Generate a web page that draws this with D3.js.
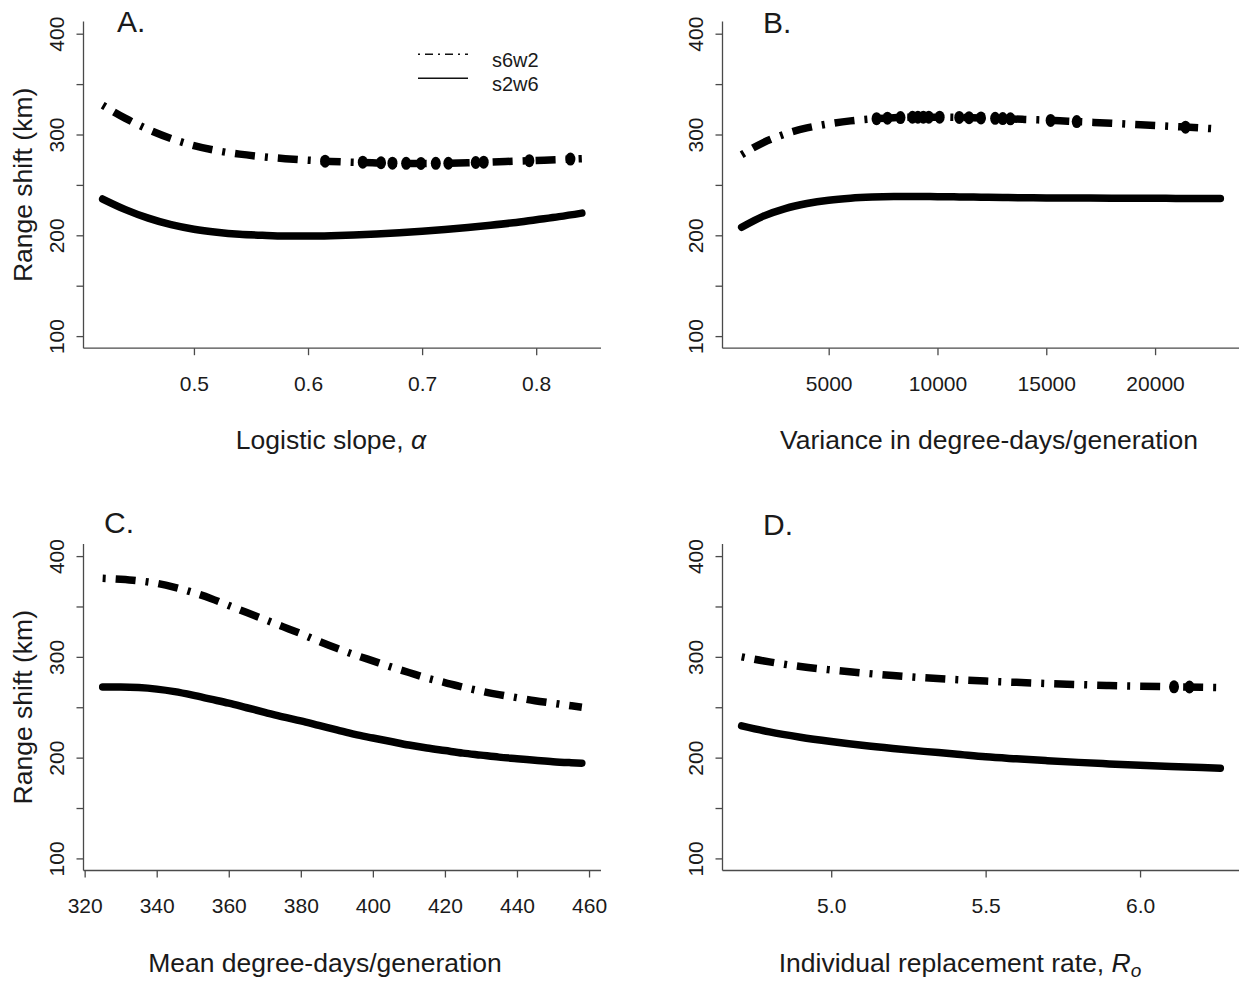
<!DOCTYPE html>
<html>
<head>
<meta charset="utf-8">
<title>Range shift</title>
<style>
body {
  margin: 0;
  background: #fff;
}
svg {
  display: block;
  font-family: "Liberation Sans", Arial, sans-serif;
}
</style>
</head>
<body>
<svg id="chart"></svg>
<script src="https://cdnjs.cloudflare.com/ajax/libs/d3/7.8.5/d3.min.js"></script>
<script>
// values
var seriesNames = ['s6w2', 's2w6'];

// A. logistic slope
var slopeX = [0.42, 0.44, 0.46, 0.48, 0.50, 0.52, 0.54, 0.56, 0.58, 0.60, 0.62,
              0.64, 0.66, 0.68, 0.70, 0.72, 0.74, 0.76, 0.78, 0.80, 0.82, 0.84];
var slopeS6w2 = [329, 316, 305, 296, 289, 284, 280.5, 278, 276, 274.5, 273.3,
                 272.4, 271.8, 271.4, 271.3, 271.5, 272, 272.7, 273.5, 274.3, 275.1, 276];
var slopeS2w6 = [236, 225.5, 217, 210.5, 206, 203, 201, 200, 199.3, 199.2, 199.5,
                 200.2, 201.2, 202.5, 204, 205.8, 207.8, 210, 212.5, 215.5, 218.5, 222];
var slopeMarks = [[0.615, 273.5], [0.648, 272.5], [0.664, 272], [0.674, 271.6], [0.686, 271.4],
                  [0.699, 271.3], [0.712, 271.4], [0.723, 271.5], [0.747, 272.2], [0.754, 272.5],
                  [0.794, 274], [0.83, 275.6]];

// B. variance in degree-days
var varX = [1000, 2000, 3000, 4000, 5000, 6000, 7000, 8000, 9000, 10000, 11000, 12000,
            13000, 14000, 15000, 16000, 17000, 18000, 19000, 20000, 21000, 22000, 23000];
var varS6w2 = [280, 292, 300.5, 306.5, 310.5, 313.5, 315.5, 316.7, 317.2, 317.2, 316.9, 316.4,
               315.8, 315, 314.2, 313.2, 312.2, 311.2, 310.1, 309, 307.8, 306.6, 305.3];
var varS2w6 = [208, 219, 226.5, 231.5, 234.8, 236.8, 237.9, 238.4, 238.5, 238.3, 238.1, 237.8,
               237.5, 237.3, 237.1, 237, 236.9, 236.8, 236.7, 236.7, 236.6, 236.6, 236.6];
var varMarks = [[7200, 315.7], [7700, 316.2], [8300, 316.8], [8850, 317.1], [9100, 317.2],
                [9350, 317.2], [9600, 317.2], [10100, 317.2], [11000, 316.9], [11450, 316.7],
                [12000, 316.4], [12650, 316], [13000, 315.8], [13350, 315.5], [15200, 314],
                [16400, 312.8], [21400, 307.3]];

// C. mean degree-days
var meanX = [325, 330, 335, 340, 345, 350, 355, 360, 365, 370, 375, 380, 385, 390,
             395, 400, 405, 410, 415, 420, 425, 430, 435, 440, 445, 450, 455, 458];
var meanS6w2 = [378, 377, 375.5, 373, 369, 364, 358, 351, 344, 337, 330, 323, 315.5, 308.5,
                302, 296, 290, 284.5, 279, 274.5, 270, 266, 262.5, 259.5, 256.5, 254, 251.5, 250];
var meanS2w6 = [270, 270, 269.5, 268, 265.5, 262, 258, 254, 249.5, 245, 240.5, 236.5, 232, 227.5,
                223, 219.5, 216, 212.5, 209.5, 207, 204.5, 202.5, 200.5, 199, 197.5, 196, 195, 194.5];
var meanMarks = [];

// D. replacement rate
var roX = [4.71, 4.8, 4.9, 5.0, 5.1, 5.2, 5.3, 5.4, 5.5, 5.6, 5.7, 5.8, 5.9, 6.0, 6.1, 6.2, 6.26];
var roS6w2 = [300, 295, 290.5, 287, 284, 281.5, 279.3, 277.5, 276, 274.7, 273.5, 272.5,
              271.6, 270.9, 270.3, 269.8, 269.5];
var roS2w6 = [231.5, 225.5, 220.3, 216, 212.2, 209, 206.2, 203.7, 200.8, 198.8, 197, 195.3,
              193.8, 192.4, 191.2, 190.1, 189.5];
var roMarks = [[6.11, 270.3], [6.16, 270.1]];

// tick labels
var yTicks = [100, 150, 200, 250, 300, 350, 400];
var yTickLabels = [100, 200, 300, 400];
var slopeTicks = [0.5, 0.6, 0.7, 0.8];
var varTicks = [5000, 10000, 15000, 20000];
var meanTicks = [320, 340, 360, 380, 400, 420, 440, 460];
var roTicks = [5.0, 5.5, 6.0];
var yLimits = [100, 400];

var width = 1239, height = 984;

var svg = d3.select('#chart')
  .attr('width', width)
  .attr('height', height);

var panels = [
  {letter: 'A.', x: slopeX, s6w2: slopeS6w2, s2w6: slopeS2w6, marks: slopeMarks, ticks: slopeTicks,
   fmt: d3.format('.1f'), title: 'slope', left: 83.5, right: 601, top: 21.6, bottom: 348.2,
   letterPos: [117, 32], titleX: 331, yTitle: true, legend: true},
  {letter: 'B.', x: varX, s6w2: varS6w2, s2w6: varS2w6, marks: varMarks, ticks: varTicks,
   fmt: d3.format('d'), title: 'Variance in degree-days/generation', left: 722.5, right: 1239.5, top: 21.6, bottom: 348.2,
   letterPos: [763, 33], titleX: 989},
  {letter: 'C.', x: meanX, s6w2: meanS6w2, s2w6: meanS2w6, marks: meanMarks, ticks: meanTicks,
   fmt: d3.format('d'), title: 'Mean degree-days/generation', left: 83.5, right: 601, top: 544, bottom: 870.5,
   letterPos: [104, 533], titleX: 325, yTitle: true},
  {letter: 'D.', x: roX, s6w2: roS6w2, s2w6: roS2w6, marks: roMarks, ticks: roTicks,
   fmt: d3.format('.1f'), title: 'ro', left: 722.5, right: 1239.5, top: 544, bottom: 870.5,
   letterPos: [763, 535], titleX: 960}
];

// R style axis range: data range padded by 4%
function pad(lo, hi) {
  var d = (hi - lo) * 0.04;
  return [lo - d, hi + d];
}

var textCol = '#1a1a1a';
var axisCol = '#4a4a4a';

panels.forEach(function(p) {
  var g = svg.append('g');

  var xScale = d3.scaleLinear()
    .domain(pad(d3.min(p.x), d3.max(p.x)))
    .range([p.left, p.right]);
  var yScale = d3.scaleLinear()
    .domain(pad(yLimits[0], yLimits[1]))
    .range([p.bottom, p.top]);

  // x axis
  var xAxis = g.append('g')
    .attr('transform', 'translate(0,' + p.bottom + ')')
    .call(d3.axisBottom(xScale).tickValues(p.ticks).tickFormat(p.fmt).tickSize(7).tickSizeOuter(0));
  xAxis.selectAll('text')
    .attr('y', 35)
    .attr('dy', '0.35em')
    .attr('fill', textCol)
    .style('font-size', '21px')
    .style('font-family', '"Liberation Sans", Arial, sans-serif');

  // y axis, labels turned like R's default
  var yAxis = g.append('g')
    .attr('transform', 'translate(' + p.left + ',0)')
    .call(d3.axisLeft(yScale).tickValues(yTicks).tickSize(7).tickSizeOuter(0)
      .tickFormat(function(d) { return yTickLabels.indexOf(d) >= 0 ? d : ''; }));
  yAxis.selectAll('text')
    .attr('x', null)
    .attr('dy', '0.35em')
    .attr('text-anchor', 'middle')
    .attr('transform', 'translate(-27,0) rotate(-90)')
    .attr('fill', textCol)
    .style('font-size', '21px')
    .style('font-family', '"Liberation Sans", Arial, sans-serif');

  g.selectAll('.domain, .tick line')
    .attr('stroke', axisCol)
    .attr('stroke-width', 1.3);
  // L shaped box covering the whole plot region
  xAxis.select('.domain').attr('d', 'M' + p.left + ',0H' + p.right);
  yAxis.select('.domain').attr('d', 'M0,' + p.top + 'V' + p.bottom);

  var line = d3.line()
    .x(function(d) { return xScale(d[0]); })
    .y(function(d) { return yScale(d[1]); })
    .curve(d3.curveMonotoneX);

  g.append('path')
    .datum(d3.zip(p.x, p.s2w6))
    .attr('fill', 'none')
    .attr('stroke', '#000')
    .attr('stroke-width', 7.5)
    .attr('stroke-linecap', 'round')
    .attr('stroke-linejoin', 'round')
    .attr('d', line);

  g.append('path')
    .datum(d3.zip(p.x, p.s6w2))
    .attr('fill', 'none')
    .attr('stroke', '#000')
    .attr('stroke-width', 7.5)
    .attr('stroke-linecap', 'butt')
    .attr('stroke-dasharray', '3,10,20,10')
    .attr('d', line);

  g.selectAll('ellipse.mark')
    .data(p.marks)
    .enter()
    .append('ellipse')
    .attr('class', 'mark')
    .attr('cx', function(d) { return xScale(d[0]); })
    .attr('cy', function(d) { return yScale(d[1]); })
    .attr('rx', 5)
    .attr('ry', 6.5)
    .attr('fill', '#000');

  // panel letter
  g.append('text')
    .attr('x', p.letterPos[0])
    .attr('y', p.letterPos[1])
    .attr('fill', textCol)
    .style('font-size', '30px')
    .text(p.letter);

  // x title
  var xt = g.append('text')
    .attr('x', p.titleX)
    .attr('y', p.bottom + 92)
    .attr('dy', '0.35em')
    .attr('text-anchor', 'middle')
    .attr('fill', textCol)
    .style('font-size', '26.5px');
  if (p.title === 'slope') {
    xt.append('tspan').text('Logistic slope, ');
    xt.append('tspan').style('font-style', 'italic').text('\u03b1');
  } else if (p.title === 'ro') {
    xt.append('tspan').text('Individual replacement rate, ');
    xt.append('tspan').style('font-style', 'italic').text('R');
    xt.append('tspan').style('font-style', 'italic').style('font-size', '19px')
      .attr('dy', '0.3em').text('o');
  } else {
    xt.text(p.title);
  }

  if (p.yTitle) {
    g.append('text')
      .attr('transform', 'translate(23,' + ((p.top + p.bottom) / 2) + ') rotate(-90)')
      .attr('dy', '0.35em')
      .attr('text-anchor', 'middle')
      .attr('fill', textCol)
      .style('font-size', '26.5px')
      .text('Range shift (km)');
  }

  if (p.legend) {
    var leg = g.append('g');
    var rows = [{name: seriesNames[0], y: 54.3, dash: '2,5,8,5'},
                {name: seriesNames[1], y: 78.3, dash: null}];
    rows.forEach(function(r) {
      leg.append('line')
        .attr('x1', 418).attr('x2', 468)
        .attr('y1', r.y).attr('y2', r.y)
        .attr('stroke', '#111')
        .attr('stroke-width', 1.5)
        .attr('stroke-dasharray', r.dash);
      leg.append('text')
        .attr('x', 492)
        .attr('y', r.y + 6)
        .attr('dy', '0.35em')
        .attr('fill', textCol)
        .style('font-size', '20px')
        .text(r.name);
    });
  }
});
</script>
</body>
</html>
